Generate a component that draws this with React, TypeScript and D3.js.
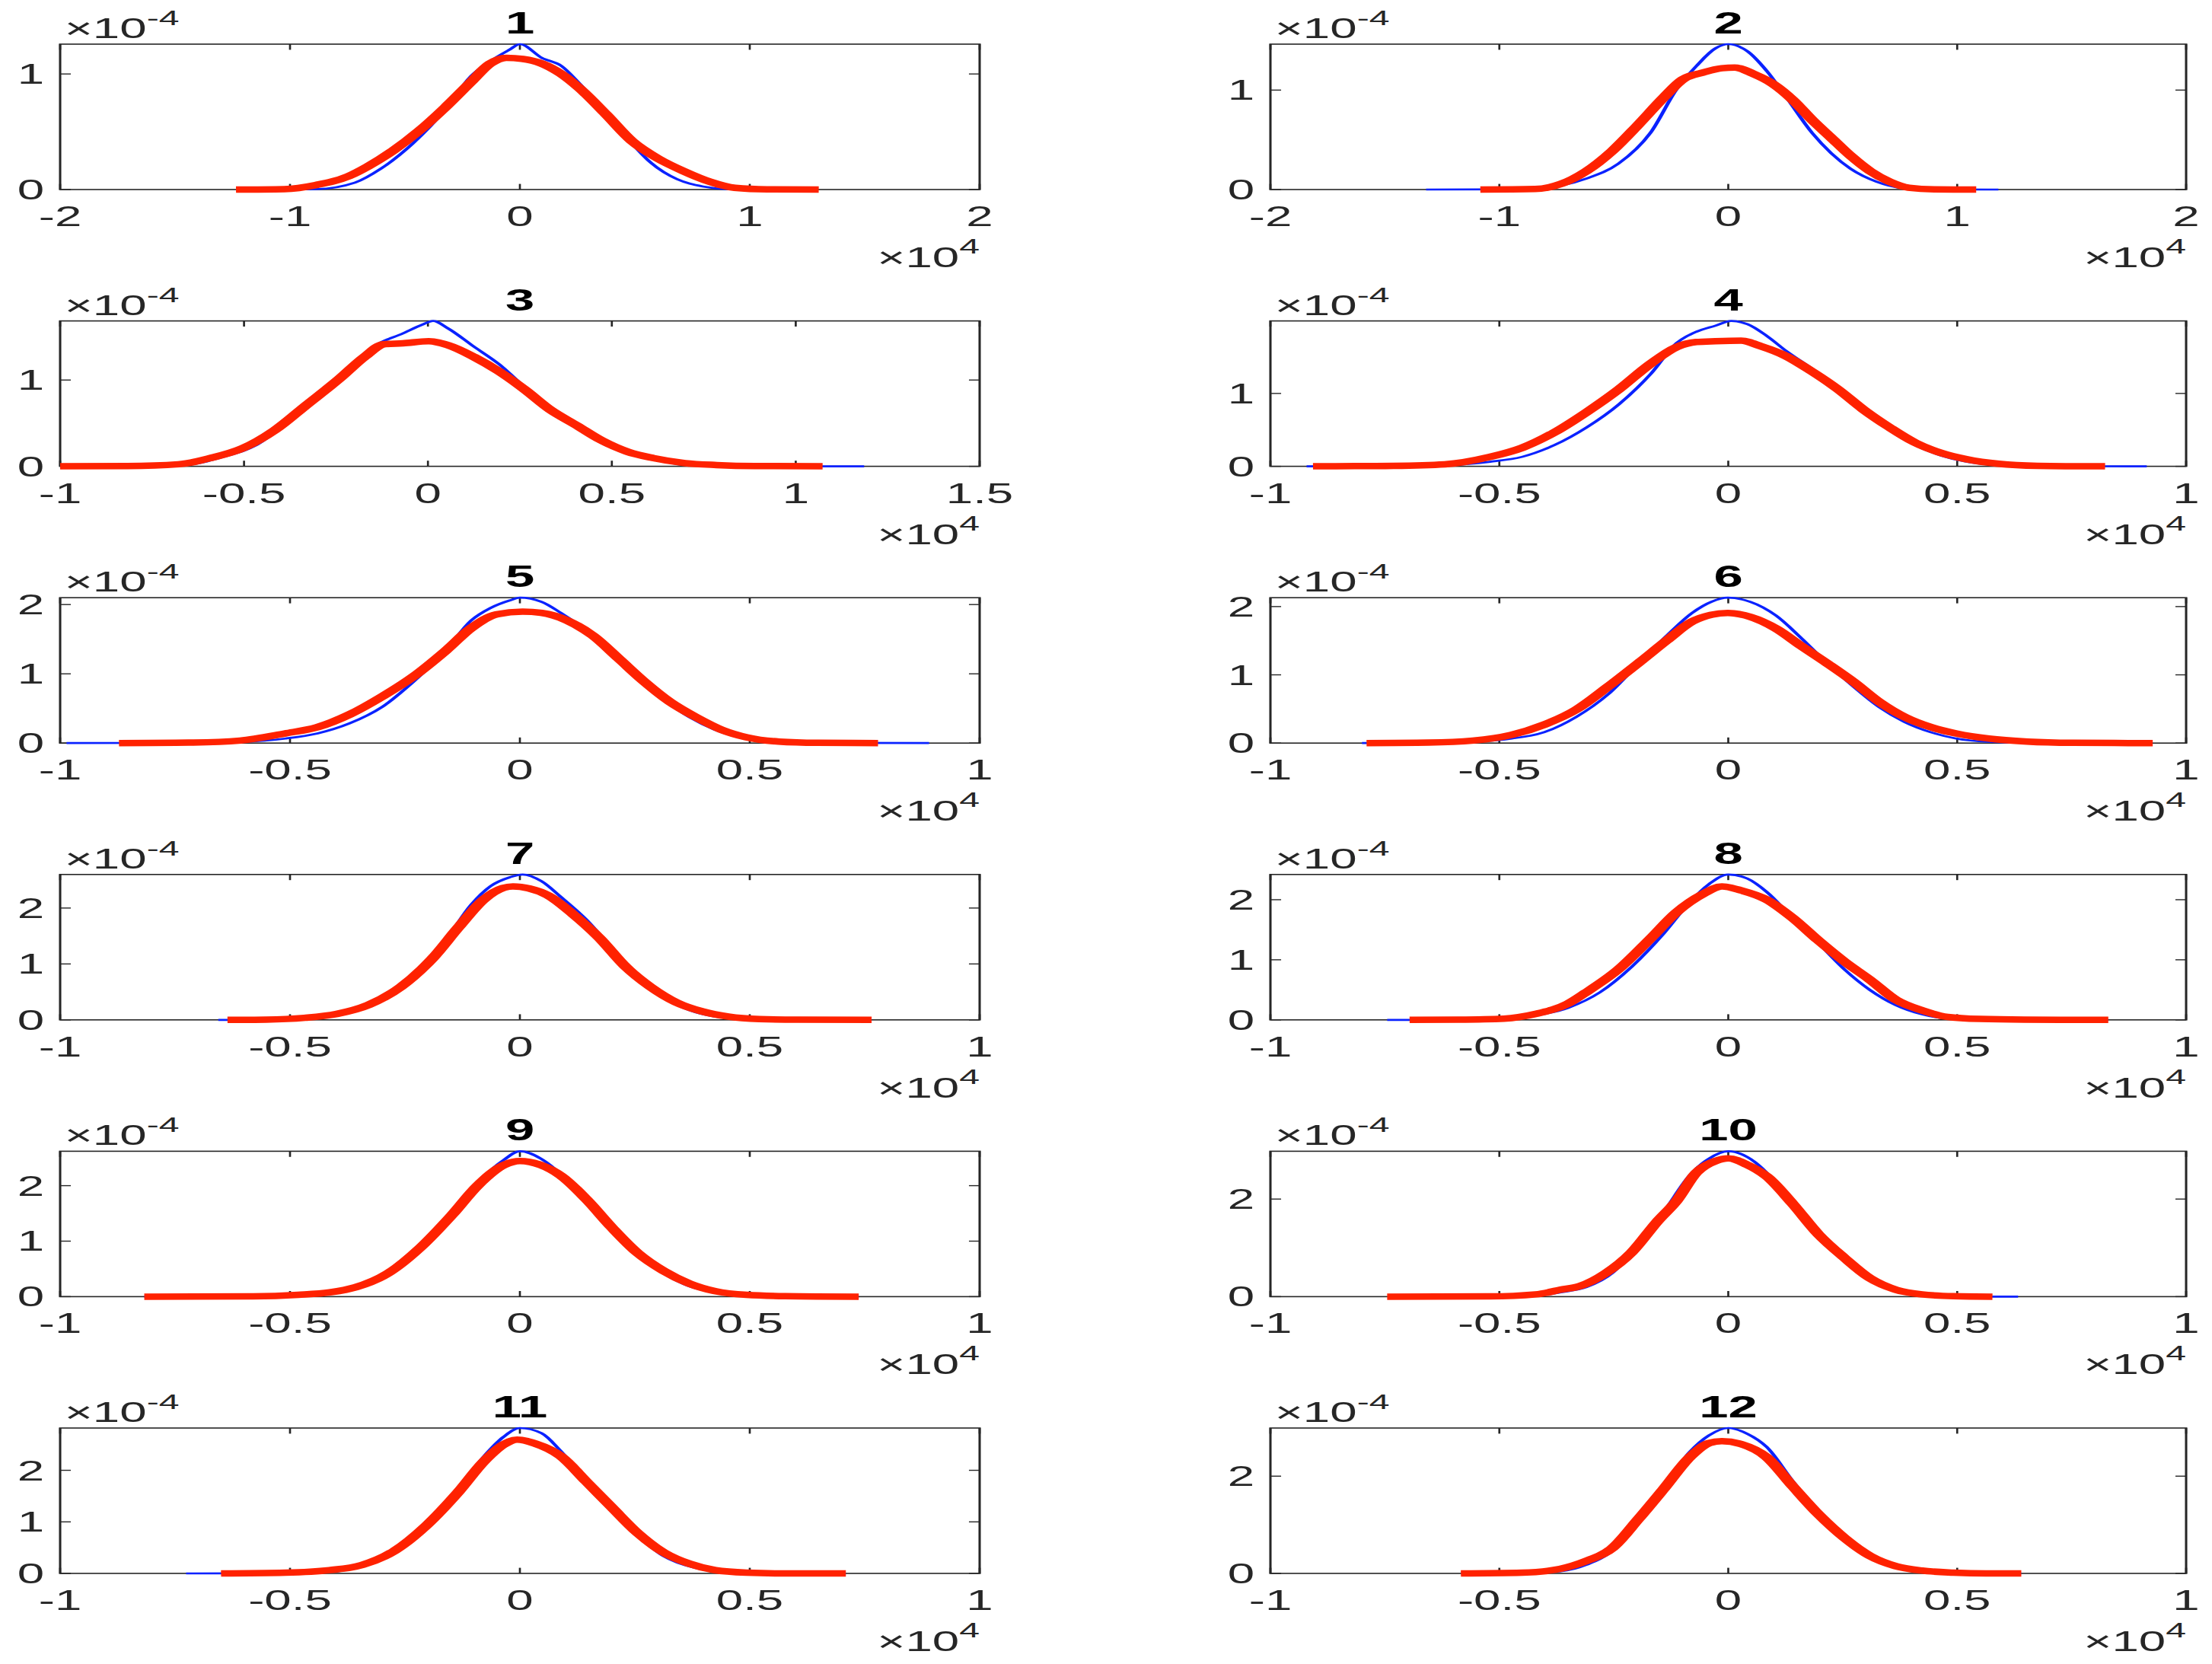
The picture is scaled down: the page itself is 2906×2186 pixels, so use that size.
import React from "react";
import * as d3 from "d3";

// ---------- data (x in units of 1e4, density in units of 1e-4) ----------
const titles = ["1", "2", "3", "4", "5", "6", "7", "8", "9", "10", "11", "12"];
const xDomains: [number, number][] = [
  [-2, 2], [-2, 2], [-1, 1.5], [-1, 1], [-1, 1], [-1, 1],
  [-1, 1], [-1, 1], [-1, 1], [-1, 1], [-1, 1], [-1, 1],
];
const xTicks: number[][] = [
  [-2, -1, 0, 1, 2], [-2, -1, 0, 1, 2], [-1, -0.5, 0, 0.5, 1, 1.5],
  [-1, -0.5, 0, 0.5, 1], [-1, -0.5, 0, 0.5, 1], [-1, -0.5, 0, 0.5, 1],
  [-1, -0.5, 0, 0.5, 1], [-1, -0.5, 0, 0.5, 1], [-1, -0.5, 0, 0.5, 1],
  [-1, -0.5, 0, 0.5, 1], [-1, -0.5, 0, 0.5, 1], [-1, -0.5, 0, 0.5, 1],
];
const yMax = [1.258, 1.462, 1.685, 1.995, 2.099, 2.13, 2.6, 2.42, 2.62, 2.98, 2.82, 2.99];
const yTicks: number[][] = [
  [0, 1], [0, 1], [0, 1], [0, 1], [0, 1, 2], [0, 1, 2],
  [0, 1, 2], [0, 1, 2], [0, 1, 2], [0, 2], [0, 1, 2], [0, 2],
];

const blue1 = [[-1.2,0],[-0.885,0.004],[-0.717,0.06],[-0.605,0.18],[-0.465,0.4],[-0.325,0.69],[-0.213,0.98],[-0.129,1.11],[-0.045,1.21],[0,1.258],[0.095,1.14],[0.18,1.07],[0.263,0.91],[0.375,0.67],[0.487,0.4],[0.571,0.23],[0.683,0.09],[0.796,0.027],[0.908,0.004],[1.28,0]];
const red1 = [[-1.235,0],[-1.025,0.004],[-0.885,0.04],[-0.745,0.115],[-0.661,0.2],[-0.549,0.34],[-0.437,0.51],[-0.325,0.71],[-0.213,0.93],[-0.129,1.09],[-0.059,1.14],[0.011,1.13],[0.095,1.09],[0.18,1.0],[0.263,0.87],[0.375,0.65],[0.487,0.42],[0.599,0.27],[0.711,0.16],[0.823,0.07],[0.935,0.015],[1.075,0.002],[1.3,0]];

const blue2 = [[-1.32,0],[-0.9,0.003],[-0.73,0.04],[-0.62,0.11],[-0.48,0.26],[-0.34,0.57],[-0.225,1.01],[-0.14,1.24],[-0.056,1.42],[0,1.462],[0.084,1.39],[0.169,1.19],[0.253,0.93],[0.366,0.57],[0.45,0.365],[0.534,0.21],[0.647,0.08],[0.76,0.015],[0.87,0.002],[1.18,0]];
const red2 = [[-1.083,0],[-0.844,0.005],[-0.73,0.057],[-0.62,0.185],[-0.506,0.39],[-0.394,0.65],[-0.28,0.93],[-0.197,1.11],[-0.113,1.175],[-0.028,1.22],[0.028,1.226],[0.113,1.16],[0.197,1.06],[0.28,0.905],[0.366,0.7],[0.45,0.52],[0.534,0.34],[0.62,0.185],[0.703,0.08],[0.788,0.018],[0.9,0.002],[1.083,0]];

const blue3 = [[-1,0],[-0.73,0.003],[-0.643,0.024],[-0.556,0.11],[-0.469,0.24],[-0.382,0.51],[-0.294,0.83],[-0.207,1.156],[-0.138,1.41],[-0.068,1.54],[-0.016,1.64],[0.014,1.685],[0.054,1.6],[0.124,1.39],[0.193,1.185],[0.263,0.92],[0.333,0.685],[0.402,0.48],[0.472,0.27],[0.542,0.155],[0.611,0.082],[0.681,0.024],[0.751,0.006],[0.838,0],[1.186,0]];
const red3 = [[-1,0],[-0.817,0.003],[-0.678,0.024],[-0.59,0.097],[-0.503,0.21],[-0.416,0.42],[-0.329,0.715],[-0.242,1.01],[-0.172,1.27],[-0.12,1.415],[-0.068,1.426],[0.002,1.45],[0.054,1.405],[0.124,1.27],[0.193,1.1],[0.263,0.89],[0.333,0.655],[0.402,0.48],[0.472,0.3],[0.542,0.17],[0.611,0.097],[0.698,0.038],[0.785,0.015],[0.889,0.003],[1.073,0]];

const blue4 = [[-0.921,0],[-0.731,0.003],[-0.619,0.017],[-0.52,0.063],[-0.45,0.13],[-0.38,0.29],[-0.309,0.535],[-0.239,0.85],[-0.169,1.27],[-0.113,1.69],[-0.07,1.846],[-0.028,1.93],[0.007,1.995],[0.042,1.95],[0.084,1.79],[0.127,1.58],[0.183,1.34],[0.239,1.09],[0.295,0.815],[0.352,0.5],[0.408,0.29],[0.464,0.15],[0.52,0.063],[0.59,0.017],[0.675,0.003],[0.914,0]];
const red4 = [[-0.907,0],[-0.731,0.007],[-0.619,0.028],[-0.52,0.13],[-0.45,0.255],[-0.38,0.465],[-0.309,0.745],[-0.239,1.056],[-0.169,1.41],[-0.113,1.636],[-0.07,1.706],[-0.028,1.717],[0.028,1.724],[0.07,1.65],[0.127,1.51],[0.183,1.3],[0.239,1.06],[0.295,0.78],[0.352,0.535],[0.408,0.325],[0.464,0.185],[0.52,0.098],[0.59,0.035],[0.675,0.007],[0.823,0]];

const blue5 = [[-0.986,0],[-0.72,0.004],[-0.608,0.018],[-0.51,0.066],[-0.44,0.14],[-0.37,0.286],[-0.3,0.52],[-0.231,0.89],[-0.162,1.33],[-0.106,1.77],[-0.064,1.95],[-0.022,2.06],[0,2.099],[0.047,2.04],[0.089,1.88],[0.145,1.62],[0.2,1.29],[0.256,0.96],[0.312,0.634],[0.368,0.377],[0.424,0.194],[0.479,0.084],[0.535,0.029],[0.619,0.004],[0.89,0]];
const red5 = [[-0.872,0],[-0.72,0.007],[-0.608,0.037],[-0.51,0.14],[-0.44,0.23],[-0.37,0.414],[-0.3,0.67],[-0.231,0.963],[-0.162,1.33],[-0.106,1.66],[-0.05,1.86],[0.006,1.897],[0.047,1.88],[0.103,1.77],[0.159,1.55],[0.215,1.22],[0.27,0.89],[0.326,0.597],[0.382,0.377],[0.438,0.194],[0.493,0.084],[0.563,0.022],[0.647,0.004],[0.779,0]];

const blue6 = [[-0.8,0],[-0.655,0.004],[-0.557,0.019],[-0.473,0.067],[-0.402,0.16],[-0.332,0.383],[-0.262,0.717],[-0.191,1.2],[-0.135,1.57],[-0.079,1.907],[-0.037,2.07],[-0.001,2.13],[0.048,2.07],[0.104,1.87],[0.16,1.535],[0.217,1.164],[0.273,0.83],[0.329,0.53],[0.385,0.31],[0.442,0.16],[0.498,0.067],[0.568,0.019],[0.653,0.004],[0.927,0]];
const red6 = [[-0.79,0],[-0.655,0.007],[-0.557,0.037],[-0.473,0.12],[-0.402,0.27],[-0.332,0.49],[-0.262,0.83],[-0.191,1.2],[-0.135,1.5],[-0.079,1.78],[-0.037,1.88],[-0.001,1.907],[0.048,1.85],[0.104,1.68],[0.16,1.42],[0.217,1.164],[0.273,0.9],[0.329,0.606],[0.385,0.383],[0.442,0.234],[0.498,0.14],[0.568,0.067],[0.653,0.022],[0.751,0.004],[0.927,0]];

const blue7 = [[-0.656,0],[-0.51,0.01],[-0.44,0.06],[-0.37,0.175],[-0.3,0.405],[-0.231,0.82],[-0.162,1.42],[-0.106,2.06],[-0.064,2.39],[-0.022,2.55],[0.006,2.6],[0.047,2.48],[0.089,2.2],[0.145,1.79],[0.2,1.28],[0.256,0.774],[0.312,0.405],[0.368,0.175],[0.424,0.06],[0.493,0.014],[0.563,0],[0.765,0]];
const red7 = [[-0.636,0],[-0.552,0.005],[-0.468,0.037],[-0.398,0.106],[-0.329,0.267],[-0.259,0.59],[-0.19,1.1],[-0.134,1.65],[-0.078,2.157],[-0.036,2.36],[-0.015,2.387],[0.02,2.35],[0.061,2.226],[0.117,1.88],[0.173,1.465],[0.229,0.958],[0.284,0.59],[0.34,0.313],[0.396,0.152],[0.452,0.06],[0.521,0.014],[0.605,0.003],[0.765,0]];

const blue8 = [[-0.745,0],[-0.59,0],[-0.49,0.017],[-0.42,0.073],[-0.35,0.2],[-0.28,0.46],[-0.21,0.89],[-0.14,1.446],[-0.084,1.96],[-0.042,2.26],[0,2.42],[0.042,2.35],[0.084,2.13],[0.14,1.7],[0.197,1.275],[0.253,0.845],[0.309,0.5],[0.366,0.245],[0.422,0.094],[0.478,0.021],[0.549,0],[0.83,0]];
const red8 = [[-0.696,0],[-0.59,0.004],[-0.49,0.02],[-0.42,0.1],[-0.35,0.27],[-0.31,0.46],[-0.239,0.845],[-0.169,1.36],[-0.113,1.79],[-0.056,2.09],[-0.014,2.22],[0.028,2.155],[0.084,2.0],[0.14,1.7],[0.197,1.32],[0.253,0.974],[0.309,0.67],[0.366,0.335],[0.422,0.16],[0.478,0.05],[0.549,0.015],[0.647,0.004],[0.83,0]];

const blue9 = [[-0.817,0],[-0.58,0],[-0.482,0.018],[-0.412,0.078],[-0.343,0.19],[-0.273,0.467],[-0.203,0.924],[-0.134,1.565],[-0.078,2.16],[-0.036,2.457],[0,2.62],[0.047,2.48],[0.089,2.206],[0.145,1.7],[0.2,1.2],[0.256,0.741],[0.312,0.42],[0.368,0.19],[0.424,0.078],[0.493,0.018],[0.577,0],[0.737,0]];
const red9 = [[-0.817,0],[-0.58,0.005],[-0.482,0.032],[-0.412,0.078],[-0.357,0.17],[-0.287,0.42],[-0.217,0.88],[-0.148,1.47],[-0.092,2.0],[-0.036,2.366],[0,2.444],[0.047,2.366],[0.089,2.18],[0.145,1.75],[0.2,1.245],[0.256,0.787],[0.312,0.467],[0.368,0.238],[0.424,0.1],[0.493,0.032],[0.577,0.009],[0.737,0]];

const blue10 = [[-0.738,0],[-0.52,0],[-0.42,0.02],[-0.366,0.09],[-0.31,0.195],[-0.253,0.485],[-0.197,1.066],[-0.14,1.75],[-0.084,2.49],[-0.042,2.83],[0,2.98],[0.042,2.86],[0.084,2.54],[0.14,1.86],[0.197,1.224],[0.253,0.75],[0.309,0.38],[0.366,0.142],[0.422,0.037],[0.492,0],[0.633,0]];
const red10 = [[-0.745,0],[-0.52,0.005],[-0.42,0.047],[-0.366,0.142],[-0.323,0.22],[-0.267,0.485],[-0.211,0.908],[-0.155,1.54],[-0.113,1.963],[-0.07,2.54],[-0.028,2.78],[0,2.834],[0.042,2.7],[0.084,2.464],[0.14,1.91],[0.197,1.277],[0.253,0.8],[0.309,0.38],[0.366,0.142],[0.422,0.047],[0.492,0.01],[0.577,0]];

const blue11 = [[-0.726,0],[-0.51,0.005],[-0.413,0.03],[-0.343,0.14],[-0.273,0.387],[-0.203,0.933],[-0.134,1.628],[-0.078,2.273],[-0.036,2.645],[0,2.82],[0.047,2.72],[0.089,2.372],[0.145,1.777],[0.2,1.23],[0.256,0.734],[0.312,0.337],[0.368,0.139],[0.424,0.04],[0.493,0.005],[0.709,0]];
const red11 = [[-0.65,0],[-0.51,0.015],[-0.413,0.065],[-0.343,0.164],[-0.273,0.437],[-0.203,0.933],[-0.134,1.578],[-0.078,2.174],[-0.036,2.496],[-0.006,2.596],[0.033,2.52],[0.089,2.273],[0.145,1.777],[0.2,1.28],[0.256,0.784],[0.312,0.41],[0.368,0.19],[0.424,0.065],[0.493,0.015],[0.577,0],[0.709,0]];

const blue12 = [[-0.584,0],[-0.45,0.005],[-0.366,0.043],[-0.31,0.176],[-0.253,0.47],[-0.197,1.11],[-0.14,1.8],[-0.084,2.5],[-0.042,2.84],[0,2.99],[0.042,2.87],[0.084,2.6],[0.14,1.91],[0.197,1.27],[0.253,0.736],[0.309,0.363],[0.366,0.123],[0.422,0.032],[0.492,0.005],[0.64,0]];
const red12 = [[-0.584,0],[-0.45,0.016],[-0.366,0.096],[-0.31,0.256],[-0.253,0.523],[-0.197,1.11],[-0.14,1.75],[-0.084,2.39],[-0.042,2.68],[-0.014,2.72],[0.028,2.66],[0.084,2.39],[0.14,1.8],[0.197,1.216],[0.253,0.736],[0.309,0.363],[0.366,0.15],[0.422,0.059],[0.492,0.016],[0.563,0],[0.64,0]];

const blueSeries = [blue1, blue2, blue3, blue4, blue5, blue6, blue7, blue8, blue9, blue10, blue11, blue12];
const redSeries = [red1, red2, red3, red4, red5, red6, red7, red8, red9, red10, red11, red12];

// ---------- layout ----------
const W = 2906;
const H = 2186;
const S = 1.9; // horizontal stretch of the whole figure
const TEXT_S = 1.72; // effective horizontal stretch of glyphs
const K = TEXT_S / S;
const COL_LEFT = [79, 1669];
const COL_WIDTH = [1208, 1203];
const ROW_TOP0 = 58;
const ROW_STEP = 363.6;
const PANEL_H = 191;
const TICK = 7.4;
const FONT = "'Liberation Sans', Arial, Helvetica, sans-serif";
const AXIS_COLOR = "#262626";
const BLUE = "#0a22ff";
const RED = "#ff2200";
const TICK_FS = 37;
const SUP_FS = 28;

function T({ x, y, anchor, size, weight, fill, children }: any) {
  return (
    <text
      transform={`translate(${x},${y}) scale(${K},1)`}
      x={0}
      y={0}
      textAnchor={anchor || "start"}
      fontSize={size}
      fontWeight={weight || "normal"}
      fontFamily={FONT}
      fill={fill || AXIS_COLOR}
    >
      {children}
    </text>
  );
}

function Panel({ i }: { i: number }) {
  const col = i % 2;
  const row = Math.floor(i / 2);
  const left = COL_LEFT[col] / S;
  const width = COL_WIDTH[col] / S;
  const top = ROW_TOP0 + ROW_STEP * row;
  const bottom = top + PANEL_H;
  const right = left + width;

  const x = d3.scaleLinear().domain(xDomains[i]).range([left, right]);
  const y = d3.scaleLinear().domain([0, yMax[i]]).range([bottom, top]);
  const line = d3
    .line<number[]>()
    .x((d) => x(d[0]))
    .y((d) => y(d[1]))
    .curve(d3.curveMonotoneX);

  return (
    <g>
      <rect x={left} y={top} width={width} height={PANEL_H} fill="none" stroke={AXIS_COLOR} strokeWidth={1.6} />
      {xTicks[i].map((t) => (
        <g key={"xt" + t}>
          <line x1={x(t)} x2={x(t)} y1={bottom} y2={bottom - TICK} stroke={AXIS_COLOR} strokeWidth={1.4} />
          <line x1={x(t)} x2={x(t)} y1={top} y2={top + TICK} stroke={AXIS_COLOR} strokeWidth={1.4} />
          <T x={x(t)} y={bottom + 48} anchor="middle" size={TICK_FS}>
            {String(t)}
          </T>
        </g>
      ))}
      {yTicks[i].map((t) => (
        <g key={"yt" + t}>
          <line x1={left} x2={left + TICK} y1={y(t)} y2={y(t)} stroke={AXIS_COLOR} strokeWidth={1.4} />
          <line x1={right} x2={right - TICK} y1={y(t)} y2={y(t)} stroke={AXIS_COLOR} strokeWidth={1.4} />
          <T x={left - 11} y={y(t) + 13} anchor="end" size={TICK_FS}>
            {String(t)}
          </T>
        </g>
      ))}
      <path d={line(blueSeries[i] as number[][]) || ""} fill="none" stroke={BLUE} strokeWidth={2.7} strokeLinejoin="round" />
      <path d={line(redSeries[i] as number[][]) || ""} fill="none" stroke={RED} strokeWidth={8.5} strokeLinejoin="round" />
      <T x={(left + right) / 2} y={top - 14} anchor="middle" size={40} weight="bold" fill="#000">
        {titles[i]}
      </T>
      <T x={left + 3} y={top - 8} size={TICK_FS}>
        {"\u00D710"}
        <tspan fontSize={SUP_FS} dy={-17}>{"-4"}</tspan>
      </T>
      <T x={right} y={bottom + 102} anchor="end" size={TICK_FS}>
        {"\u00D710"}
        <tspan fontSize={SUP_FS} dy={-18}>{"4"}</tspan>
      </T>
    </g>
  );
}

export default function App() {
  return (
    <svg
      width={W}
      height={H}
      viewBox={`0 0 ${W} ${H}`}
      style={{ position: "absolute", left: 0, top: 0, background: "#fff" }}
    >
      <rect x={0} y={0} width={W} height={H} fill="#fff" />
      <g transform={`scale(${S},1)`}>
        {titles.map((_, i) => (
          <Panel key={i} i={i} />
        ))}
      </g>
    </svg>
  );
}
